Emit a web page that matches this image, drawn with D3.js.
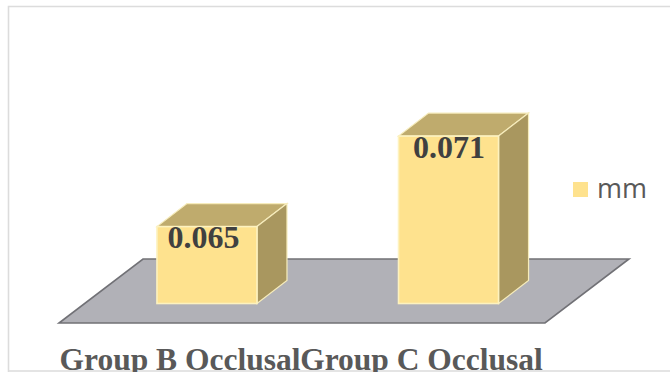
<!DOCTYPE html>
<html>
<head>
<meta charset="utf-8">
<script src="https://cdn.jsdelivr.net/npm/d3@7"></script>
<style>
html,body{margin:0;padding:0;background:#fff;overflow:hidden}
svg{display:block}
</style>
</head>
<body>
<svg id="chart" width="670" height="372"></svg>
<script>
// Data
const categories = ["Group B Occlusal", "Group C Occlusal"];
const values = [0.065, 0.071];
const valueLabels = ["0.065", "0.071"];
const seriesName = "mm";

const svg = d3.select("#chart");

// Scales: the value axis does not start at zero
const x = d3.scaleBand().domain(categories).range([84.5, 571]).paddingInner(0.586).paddingOuter(0.3);
const y = d3.scaleLinear().domain([0.0599, 0.072]).range([303.5, 121]);

// Oblique projection offset for the depth of each box
const depth = {dx: 30, dy: -23};
const floorDepth = {dx: 84, dy: -64};

// Horizontal nudge of each value label relative to its box centre
const labelShift = d3.scaleOrdinal().domain(categories).range([-3.5, 0.5]);

// Chart frame
svg.append("path")
  .attr("d", "M8.5,372V6.5H670M8,371H670")
  .attr("fill", "none").attr("stroke", "#dcdcdc").attr("stroke-width", 1.6);

// Floor plane
const floor = {x0: 59, x1: 545, y: 323};
svg.append("path")
  .attr("d", d3.line()([
    [floor.x0, floor.y], [floor.x1, floor.y],
    [floor.x1 + floorDepth.dx, floor.y + floorDepth.dy],
    [floor.x0 + floorDepth.dx, floor.y + floorDepth.dy]]) + "Z")
  .attr("fill", "#b1b1b7").attr("stroke", "#717176").attr("stroke-width", 1.6)
  .attr("stroke-linejoin", "miter");

// Boxes
const bars = svg.selectAll("g.bar")
  .data(categories.map((c, i) => ({c, v: values[i], label: valueLabels[i]})))
  .join("g").attr("class", "bar");

const edge = "#f6ecbc";
const line = d3.line();

bars.append("path") // top face
  .attr("d", d => {
    const l = x(d.c), r = l + x.bandwidth(), t = y(d.v);
    return line([[l, t], [r, t], [r + depth.dx, t + depth.dy], [l + depth.dx, t + depth.dy]]) + "Z";
  })
  .attr("fill", "#bfab6d").attr("stroke", edge).attr("stroke-width", 1.2);

bars.append("path") // side face
  .attr("d", d => {
    const r = x(d.c) + x.bandwidth(), t = y(d.v), b = y.range()[0];
    return line([[r, t], [r + depth.dx, t + depth.dy], [r + depth.dx, b + depth.dy], [r, b]]) + "Z";
  })
  .attr("fill", "#a9975f").attr("stroke", edge).attr("stroke-width", 1.2);

bars.append("rect") // front face
  .attr("x", d => x(d.c))
  .attr("y", d => y(d.v))
  .attr("width", x.bandwidth())
  .attr("height", d => y.range()[0] - y(d.v))
  .attr("fill", "#fee28e").attr("stroke", "#fdf2bf").attr("stroke-width", 1.6);

// Value labels
bars.append("text")
  .attr("x", d => x(d.c) + x.bandwidth() / 2 + labelShift(d.c))
  .attr("y", d => y(d.v) + 21.5)
  .attr("text-anchor", "middle")
  .attr("font-family", "'Liberation Serif', serif")
  .attr("font-weight", "bold").attr("font-size", 32)
  .attr("fill", "#404040")
  .text(d => d.label);

// Category labels, shifted left to sit under the front edge of the floor
svg.selectAll("text.cat").data(categories).join("text")
  .attr("class", "cat")
  .attr("x", d => x(d) + x.bandwidth() / 2 - 27)
  .attr("y", 370)
  .attr("text-anchor", "middle")
  .attr("font-family", "'Liberation Serif', serif")
  .attr("font-weight", "bold").attr("font-size", 31.5)
  .attr("fill", "#595959")
  .text(d => d);

// Legend
svg.append("rect").attr("x", 573).attr("y", 182).attr("width", 15).attr("height", 15).attr("fill", "#fee28e");
svg.append("text").attr("x", 597).attr("y", 198)
  .attr("font-family", "'Open Sans', sans-serif").attr("font-size", 27)
  .attr("fill", "#595959").text(seriesName);
</script>
</body>
</html>
